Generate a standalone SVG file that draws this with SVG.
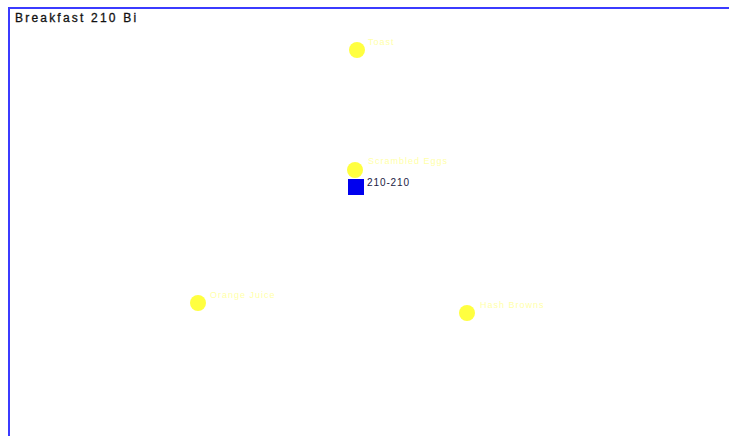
<svg xmlns="http://www.w3.org/2000/svg" width="729" height="436" viewBox="0 0 729 436">
<style>
.node circle{fill:#ffff40;}
.lbl{font-family:"Liberation Sans",Arial,sans-serif;font-size:9px;letter-spacing:1px;fill:#ffffaa;}
.title{font-family:"Liberation Sans",Arial,sans-serif;font-size:12px;letter-spacing:2.2px;fill:#111;stroke:#111;stroke-width:0.3px;}
.code{font-family:"Liberation Sans",Arial,sans-serif;font-size:10px;letter-spacing:0.9px;fill:#222244;}
</style>
<rect width="729" height="436" fill="#fff"/>
<rect x="9" y="8" width="740" height="450" fill="none" stroke="#3b3bff" stroke-width="2"/>
<text class="title" x="15" y="22">Breakfast 210 Bi</text>
<g id="connectors"></g>
<g id="n-top" class="node"><circle cx="357" cy="50" r="8"/><text class="lbl" x="368" y="45">Toast</text></g>
<g id="n-center" class="node"><circle cx="355" cy="170" r="8"/><text class="lbl" x="368" y="164">Scrambled Eggs</text></g>
<g id="n-box"><rect x="348" y="179" width="16" height="16" fill="#0000ee"/><text class="code" x="367" y="186">210-210</text></g>
<g id="n-left" class="node"><circle cx="198" cy="303" r="8"/><text class="lbl" x="210" y="298">Orange Juice</text></g>
<g id="n-right" class="node"><circle cx="467" cy="313" r="8"/><text class="lbl" x="480" y="308">Hash Browns</text></g>
</svg>
